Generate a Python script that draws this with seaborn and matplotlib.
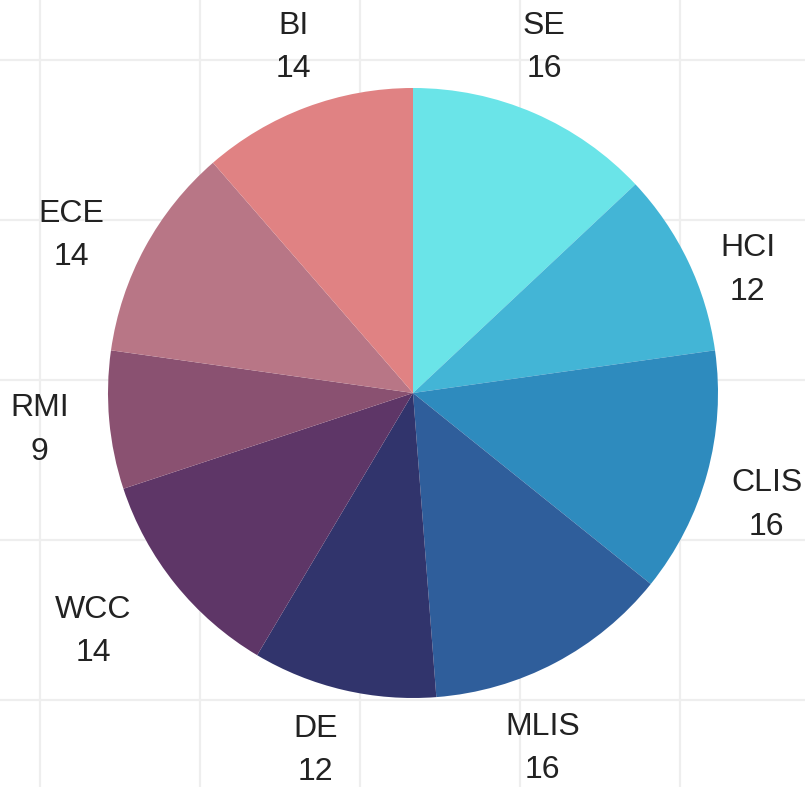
import numpy as np
import matplotlib
matplotlib.use("Agg")
from matplotlib import pyplot as plt
import seaborn as sns

# data
categories = ["SE", "HCI", "CLIS", "MLIS", "DE", "WCC", "RMI", "ECE", "BI"]
counts = [16, 12, 16, 16, 12, 14, 9, 14, 14]
hex_colors = ["#6ae4e8", "#43b5d6", "#2e8bbe", "#2f5e9b", "#31346c",
              "#5e3667", "#8a5171", "#b87686", "#e08283"]

# label nudges (px, right / down) relative to the mid-angle anchor
label_nudge = [(-16, -6), (1, 37), (-3, 14), (-43, 28), (-13, -3),
               (-31, 7), (-5, 4), (-17, 19), (10, 1)]

sns.set_theme(style="white")
plt.rcParams['font.family'] = ['Liberation Sans', 'DejaVu Sans']

W, H = 805, 787
fig = plt.figure(figsize=(W / 100, H / 100), dpi=100)
ax = fig.add_axes([0, 0, 1, 1])
ax.set_xlim(0, W)
ax.set_ylim(0, H)
ax.set_aspect('equal')

# background grid (every 160px)
for gx in [40, 200, 360, 520, 680]:
    ax.axvline(gx, color="#eeeeee", lw=1.6, zorder=0)
for gy in [60, 220, 380, 540, 700]:
    ax.axhline(H - gy, color="#eeeeee", lw=1.6, zorder=0)

palette = sns.color_palette(hex_colors)
cx, cy, r = 413, H - 393, 305
wedges, _ = ax.pie(counts, colors=palette, startangle=90, counterclock=False,
                   center=(cx, cy), radius=r, frame=True,
                   wedgeprops=dict(linewidth=0))

# labels outside the pie
vals = np.array(counts, dtype=float)
mid = (np.cumsum(vals) - vals / 2) / vals.sum() * 2 * np.pi  # clockwise from top
lr = 370
for cat, v, a, (nx, ny) in zip(categories, counts, mid, label_nudge):
    x = cx + lr * np.sin(a) + nx
    y = cy + lr * np.cos(a) - ny
    ax.text(x, y, f"{cat}\n{v}", ha="center", va="center", fontsize=23,
            color="#222222", linespacing=1.58)

ax.set_xlim(0, W)
ax.set_ylim(0, H)
ax.set_xticks([])
ax.set_yticks([])
for s in ax.spines.values():
    s.set_visible(False)

plt.savefig("out.png", dpi=100)
